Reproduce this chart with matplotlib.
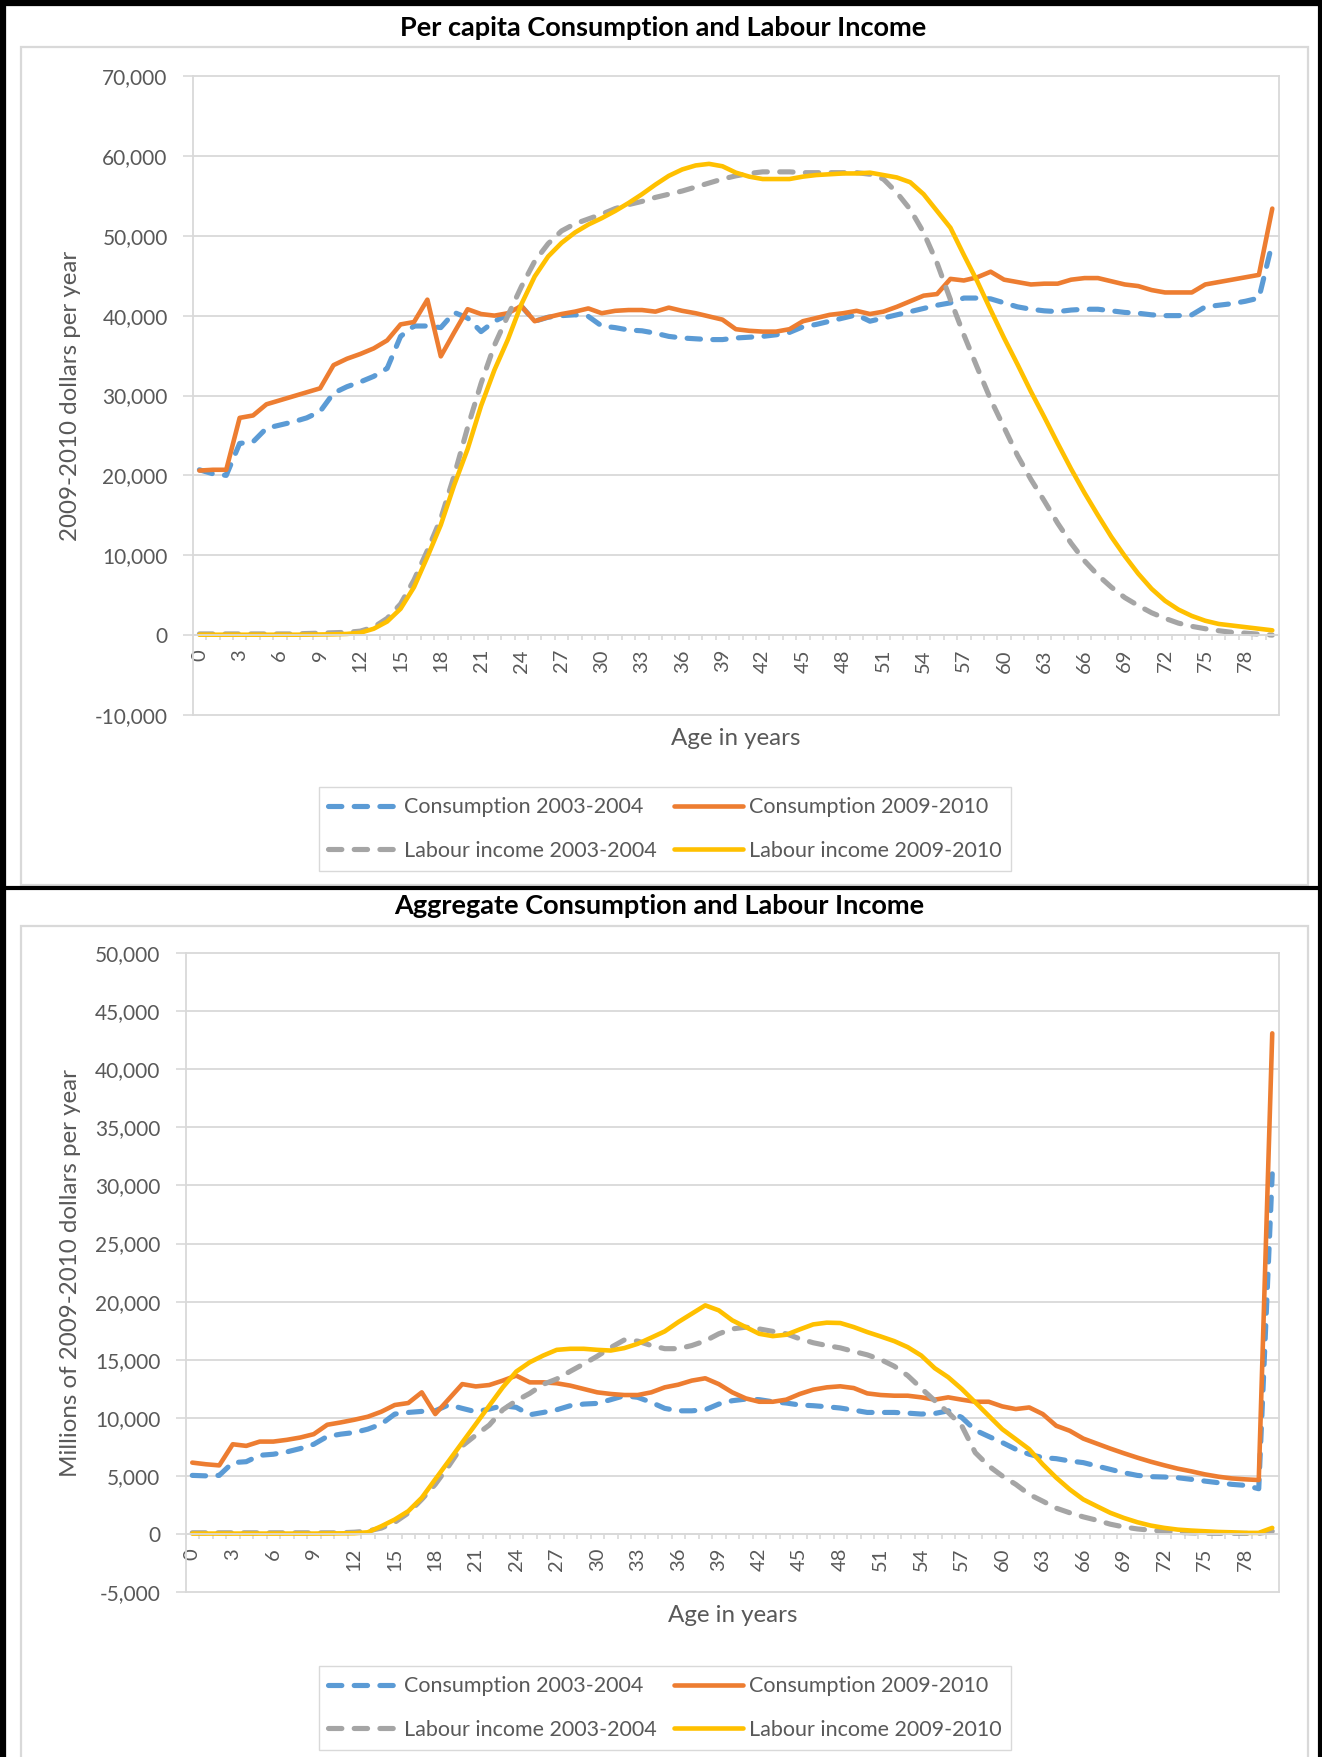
import matplotlib
matplotlib.use('Agg')
import matplotlib.pyplot as plt
from matplotlib.lines import Line2D
from matplotlib.patches import Rectangle
from matplotlib.ticker import FuncFormatter
import numpy as np

plt.rcParams['font.family'] = ['Lato', 'DejaVu Sans']

ages = np.arange(0, 81)
tick_ages = np.arange(0, 79, 3)

# per capita, 2009-2010 dollars per year
pc_cons_0304 = [20700, 20200, 20000, 24000, 24200, 25900, 26300, 26700, 27200, 28000,
                30300, 31100, 31700, 32400, 33400, 37400, 38700, 38700, 38500, 40400,
                39700, 38000, 39300, 40100, 41200, 39300, 39800, 40000, 40100, 39900,
                38700, 38500, 38200, 38100, 37800, 37400, 37200, 37100, 37000, 37000,
                37200, 37300, 37400, 37600, 37900, 38600, 38900, 39300, 39700, 40100,
                39300, 39700, 40100, 40500, 40900, 41300, 41600, 42200, 42200, 42100,
                41600, 41100, 40800, 40600, 40500, 40700, 40800, 40800, 40600, 40400,
                40300, 40100, 40000, 40000, 40100, 41100, 41300, 41500, 41800, 42200,
                49100]
pc_cons_0910 = [20600, 20700, 20700, 27200, 27500, 28900, 29400, 29900, 30400, 30900,
                33800, 34600, 35200, 35900, 36900, 38900, 39200, 42000, 34900, 37900,
                40800, 40200, 40000, 40300, 41200, 39300, 39800, 40200, 40500, 40900,
                40300, 40600, 40700, 40700, 40500, 41000, 40600, 40300, 39900, 39500,
                38300, 38100, 38000, 38000, 38300, 39300, 39700, 40100, 40300, 40600,
                40200, 40500, 41100, 41800, 42500, 42700, 44600, 44400, 44800, 45500,
                44500, 44200, 43900, 44000, 44000, 44500, 44700, 44700, 44300, 43900,
                43700, 43200, 42900, 42900, 42900, 43900, 44200, 44500, 44800, 45100,
                53400]
pc_lab_0304 = [150, 150, 150, 150, 150, 150, 150, 150, 200, 250,
               300, 350, 500, 1000, 2100, 3900, 6900, 10600, 14600, 20000,
               26000, 31500, 36300, 40000, 43600, 46800, 49000, 50600, 51500, 52100,
               52700, 53400, 53900, 54300, 54800, 55200, 55600, 56100, 56600, 57100,
               57500, 57800, 58000, 58000, 58000, 57900, 57900, 57900, 57900, 57900,
               57700, 57100, 55400, 53300, 50400, 46600, 42000, 37600, 33500, 29500,
               26000, 22500, 19500, 16800, 14000, 11500, 9300, 7500, 6000, 4700,
               3700, 2800, 2100, 1500, 1100, 800, 550, 350, 250, 120,
               0]
pc_lab_0910 = [50, 50, 50, 50, 50, 50, 50, 50, 60, 80,
               100, 150, 300, 800, 1700, 3300, 6000, 9800, 13800, 18800,
               23300, 28700, 33200, 37000, 41400, 44900, 47400, 49100, 50400, 51400,
               52200, 53100, 54100, 55200, 56400, 57500, 58300, 58800, 59000, 58700,
               57900, 57400, 57100, 57100, 57100, 57400, 57600, 57700, 57800, 57800,
               57900, 57600, 57300, 56700, 55200, 53100, 51000, 47600, 44300, 40700,
               37200, 33900, 30500, 27300, 24000, 20800, 17800, 15000, 12300, 9900,
               7700, 5800, 4300, 3200, 2400, 1800, 1400, 1200, 1000, 800,
               600]

# aggregate, millions of 2009-2010 dollars per year
agg_cons_0304 = [5040, 5000, 5040, 6140, 6220, 6770, 6860, 7060, 7350, 7720,
                 8390, 8590, 8730, 9020, 9450, 10320, 10460, 10550, 10600, 11120,
                 10810, 10520, 10750, 11040, 10900, 10260, 10460, 10690, 11040, 11180,
                 11240, 11560, 11900, 11760, 11330, 10810, 10600, 10600, 10690, 11180,
                 11470, 11610, 11560, 11380, 11270, 11100, 11040, 10950, 10840, 10660,
                 10460, 10460, 10460, 10400, 10320, 10370, 10600, 10030, 8930, 8390,
                 7870, 7290, 6860, 6570, 6480, 6280, 6140, 5850, 5560, 5270,
                 5040, 4930, 4900, 4840, 4700, 4550, 4410, 4270, 4180, 3890,
                 31000]
agg_cons_0910 = [6140, 6000, 5900, 7720, 7580, 7950, 7950, 8100, 8300, 8590,
                 9400, 9600, 9830, 10090, 10520, 11100, 11270, 12190, 10320, 11610,
                 12900, 12700, 12820, 13200, 13630, 13050, 13050, 12970, 12770, 12480,
                 12190, 12050, 11960, 11960, 12190, 12620, 12850, 13200, 13400, 12900,
                 12190, 11670, 11380, 11380, 11560, 12050, 12420, 12620, 12710, 12560,
                 12100, 11960, 11900, 11900, 11760, 11560, 11760, 11560, 11380, 11380,
                 10980, 10750, 10890, 10320, 9310, 8880, 8210, 7780, 7350, 6950,
                 6570, 6220, 5910, 5620, 5390, 5130, 4930, 4780, 4700, 4640,
                 43100]
agg_lab_0304 = [100, 100, 100, 100, 100, 100, 100, 100, 100, 100,
                100, 100, 150, 250, 500, 1000, 1800, 2970, 4270, 5850,
                7580, 8500, 9370, 10690, 11470, 12100, 12880, 13340, 14000, 14640,
                15300, 16050, 16700, 16600, 16220, 15950, 15950, 16220, 16620, 17230,
                17650, 17800, 17650, 17440, 17230, 16800, 16460, 16220, 16020, 15710,
                15420, 15010, 14440, 13630, 12540, 11470, 10460, 9310, 7000, 5850,
                4990, 4270, 3400, 2820, 2220, 1820, 1470, 1180, 840, 600,
                430, 320, 230, 140, 90, 60, 50, 50, 50, 50,
                230]
agg_lab_0910 = [30, 30, 30, 30, 30, 30, 30, 30, 30, 30,
                40, 50, 60, 140, 660, 1240, 1960, 3110, 4700, 6280,
                7870, 9450, 11040, 12620, 13980, 14780, 15360, 15850, 15940, 15940,
                15850, 15790, 16000, 16370, 16900, 17440, 18240, 18960, 19680, 19250,
                18390, 17810, 17230, 17030, 17150, 17610, 18040, 18190, 18160, 17810,
                17380, 17000, 16600, 16080, 15360, 14270, 13490, 12480, 11330, 10170,
                9020, 8160, 7290, 5990, 4840, 3830, 2970, 2390, 1820, 1380,
                1010, 720, 520, 370, 290, 230, 170, 140, 90, 90,
                520]

series_labels = ['Consumption 2003-2004', 'Consumption 2009-2010',
                 'Labour income 2003-2004', 'Labour income 2009-2010']
series_colors = ['#5B9BD5', '#ED7D31', '#A5A5A5', '#FFC000']
series_dashed = [True, False, True, False]

W, H = 1322, 1757
GRID = '#d9d9d9'
TXT = '#595959'

fig = plt.figure(figsize=(W / 100, H / 100), dpi=100)


def fx(px):
    return px / W


def fy(py):
    return 1 - py / H


def draw_chart(rect, title, title_y, ylabel, yticks, series, legend_y):
    l, t, r, b = rect
    ax = fig.add_axes([fx(l), fy(b), fx(r - l), (b - t) / H])
    lines = []
    for vals, lab, col, dashed in zip(series, series_labels, series_colors, series_dashed):
        ln, = ax.plot(ages, vals, color=col, lw=3.7 if dashed else 3.3, label=lab,
                      solid_capstyle='round', solid_joinstyle='round',
                      dash_capstyle='round', dash_joinstyle='round')
        if dashed:
            ln.set_dashes((2.6, 2.4))
        lines.append(ln)

    ax.set_xlim(-0.5, 80.5)
    ax.set_ylim(yticks[0], yticks[-1])
    ax.set_yticks(yticks)
    ax.yaxis.set_major_formatter(FuncFormatter(lambda v, p: f'{v:,.0f}'))
    ax.set_xticks(tick_ages)
    ax.set_xticks(np.arange(-0.5, 81, 1), minor=True)
    ax.tick_params(axis='x', which='major', length=0, pad=10, labelsize=14.5,
                   labelcolor=TXT, labelrotation=90)
    ax.tick_params(axis='x', which='minor', length=3.6, width=1.2, color=GRID)
    ax.tick_params(axis='y', length=7, width=1.2, color=GRID, pad=11,
                   labelsize=15, labelcolor=TXT)

    ax.grid(axis='y', color=GRID, lw=1.3)
    for gl in ax.get_ygridlines():
        gl.set_clip_on(False)
    ax.set_axisbelow(True)
    for side in ['left', 'right', 'bottom']:
        ax.spines[side].set_color(GRID)
        ax.spines[side].set_linewidth(1.3)
    ax.spines['top'].set_visible(False)
    ax.spines['bottom'].set_position(('data', 0))

    ax.set_ylabel(ylabel, fontsize=17.4, color=TXT, labelpad=10)
    ax.text(0.5, -0.021, 'Age in years', transform=ax.transAxes, ha='center',
            va='top', fontsize=17.4, color=TXT)
    fig.text(fx((l + r) / 2 - 73), fy(title_y), title, ha='center', va='center',
             fontsize=19.5, fontweight='bold', color='black')

    order = [lines[0], lines[2], lines[1], lines[3]]
    fig.legend(order, [ln.get_label() for ln in order], ncol=2,
               loc='center', bbox_to_anchor=(fx(665), fy(legend_y)),
               fontsize=15.5, labelcolor=TXT, frameon=True, fancybox=False,
               edgecolor=GRID, framealpha=1, borderpad=0.45, labelspacing=1.1,
               columnspacing=0.8, handlelength=3.2, handletextpad=0.3)
    return ax


draw_chart((192.7, 76, 1279, 715), 'Per capita Consumption and Labour Income', 28,
           '2009-2010 dollars per year', np.arange(-10000, 70001, 10000),
           [pc_cons_0304, pc_cons_0910, pc_lab_0304, pc_lab_0910], 829)
draw_chart((185.5, 953.2, 1279, 1592), 'Aggregate Consumption and Labour Income', 906,
           'Millions of 2009-2010 dollars per year', np.arange(-5000, 50001, 5000),
           [agg_cons_0304, agg_cons_0910, agg_lab_0304, agg_lab_0910], 1708)

# light chart-area frames
for (l, t, r, b) in [(21, 47, 1308, 885), (21, 926, 1308, 1790)]:
    fig.add_artist(Rectangle((fx(l), fy(b)), fx(r - l), (b - t) / H,
                             transform=fig.transFigure, fill=False,
                             edgecolor=GRID, lw=1.6))

# black panel borders
for (x0, y0, x1, y1, w) in [(3, 0, 3, H, 4.5), (1320, 0, 1320, H, 3),
                            (0, 3, W, 3, 4.5), (0, 888, W, 888, 3)]:
    fig.add_artist(Line2D([fx(x0), fx(x1)], [fy(y0), fy(y1)],
                          transform=fig.transFigure, color='black', lw=w))

fig.savefig('out.png', dpi=100)
